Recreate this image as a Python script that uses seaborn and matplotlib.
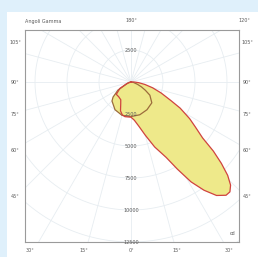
import numpy as np
import pandas as pd
import matplotlib
matplotlib.use("Agg")
import matplotlib.pyplot as plt
import seaborn as sns

sns.set_theme(style="white")
plt.rcParams['font.family'] = ['DejaVu Sans']

# ---- data: intensity (cd) vs gamma angle (deg); negative gamma = left half-plane
gamma_c0 = [-80, -70, -60, -50, -40, -30, -25, -20, -15, -10, 0, 5, 10, 15, 20, 25, 28, 31, 34, 37,
            40, 42, 44, 46, 48, 50, 52, 55, 58, 62, 65, 70, 75, 80, 85, 90, 95]
cd_c0 = [0, 300, 1000, 1500, 1500, 1600, 1900, 2400, 2650, 2750, 2750, 3000, 3500, 4300, 5400, 6500,
         7700, 9100, 10200, 11100, 11550, 11550, 11200, 10500, 9500, 8400, 7100, 6150, 5400, 4350,
         3450, 2500, 1750, 1100, 600, 250, 0]

gamma_c90 = [-100, -90, -75, -65, -58, -50, -45, -30, -15, 0, 15, 30, 45, 55, 60, 65, 70, 80, 90, 100]
cd_c90 = [0, 50, 200, 450, 1200, 1830, 2100, 2500, 2700, 2700, 2650, 2500, 2300, 1800, 1300, 900,
          550, 200, 50, 0]

ring_values = [2500, 5000, 7500, 10000, 12500]
ray_angles = list(range(-180, 180, 15))
side_labels = ["105°", "90°", "75°", "60°", "45°"]
bottom_labels = ["30°", "15°", "0°", "15°", "30°"]

W, H = 258, 257
fig = plt.figure(figsize=(W / 100, H / 100), dpi=100)
fig.patch.set_facecolor("#dff0fb")
fig.patches.append(plt.Rectangle((7 / W, 0), 1 - 7 / W, 1 - 12 / H, transform=fig.transFigure,
                                 facecolor="white", edgecolor="none", zorder=-5))

L, T, R, B = 25, 30, 239, 242
ax = fig.add_axes([L / W, 1 - B / H, (R - L) / W, (B - T) / H])
ax.set_zorder(2)
ax.set_facecolor("white")
cx, cy, scale = 131, 82, 32 / 2500
ax.set_xlim(-(cx - L) / scale, (R - cx) / scale)
ax.set_ylim(-(B - cy) / scale, (cy - T) / scale)

# grid
gc = "#e7edf1"
th = np.linspace(0, 2 * np.pi, 361)
for r in ring_values + [15000, 17500]:
    ax.plot(r * np.sin(th), r * np.cos(th), color=gc, lw=0.6, zorder=1)
for a in ray_angles:
    ar = np.radians(a)
    ax.plot([0, 20000 * np.sin(ar)], [0, -20000 * np.cos(ar)], color=gc, lw=0.6, zorder=1)

def to_df(g, c):
    g = np.radians(np.asarray(g, float))
    c = np.asarray(c, float)
    return pd.DataFrame({"x": c * np.sin(g), "y": -c * np.cos(g)})

d0 = to_df(gamma_c0, cd_c0)
d90 = to_df(gamma_c90, cd_c90)
fill_c = "#eee98a"
ax.fill(d0["x"], d0["y"], color=fill_c, zorder=2, lw=0)
ax.fill(d90["x"], d90["y"], color=fill_c, zorder=2, lw=0)
sns.lineplot(data=d90, x="x", y="y", sort=False, color="#9c6c3c", lw=0.9, ax=ax, zorder=3,
             estimator=None)
sns.lineplot(data=d0, x="x", y="y", sort=False, color="#d0433f", lw=0.9, ax=ax, zorder=4,
             estimator=None)

tc = "#5a5a5a"
fs = 3.5
for v in ring_values:
    ax.text(0, -v, str(v), ha="center", va="center", fontsize=fs, color=tc, zorder=5)
ax.text(0, 2500, "2500", ha="center", va="center", fontsize=fs, color=tc, zorder=5)
ax.text(0.985, 0.03, "cd", transform=ax.transAxes, ha="right", va="bottom", fontsize=fs, color=tc)

ax.set_xticks([]); ax.set_yticks([])
for s in ax.spines.values():
    s.set_color("#9a9a9a"); s.set_linewidth(0.8)
ax.set_xlabel(""); ax.set_ylabel("")

def ftext(x, y, s, ha="center"):
    fig.text(x / W, 1 - y / H, s, ha=ha, va="center", fontsize=fs, color=tc)

ftext(25, 21, "Angoli Gamma", ha="left")
ftext(131, 21, "180°")
ftext(244, 21, "120°")
for lab, y in zip(side_labels, [43, 83, 115, 150, 197]):
    ftext(15, y, lab)
    ftext(247, y, lab)
for lab, x in zip(bottom_labels, [30, 84, 131, 177, 229]):
    ftext(x, 250, lab)

fig.savefig("out.png", dpi=100, facecolor=fig.get_facecolor())
